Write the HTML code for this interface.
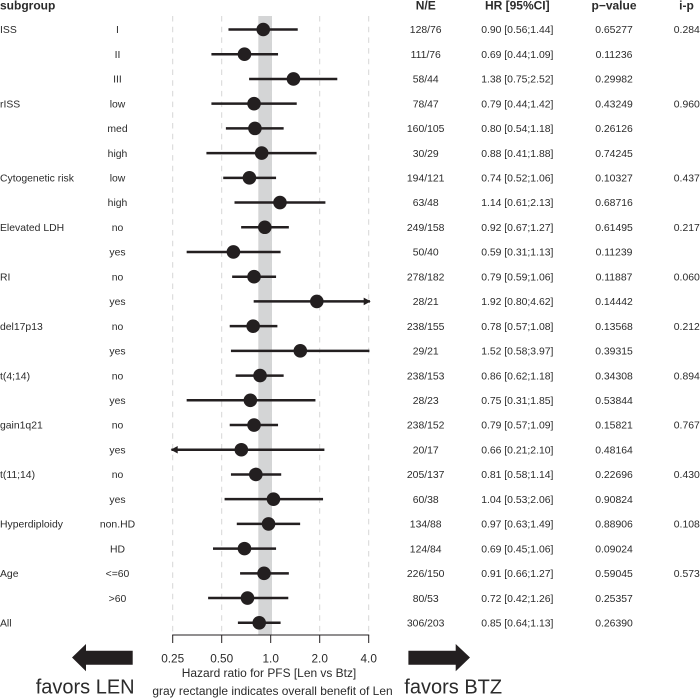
<!DOCTYPE html>
<html>
<head>
<meta charset="utf-8">
<style>
html,body{margin:0;padding:0;background:#fff;width:700px;height:698px;overflow:hidden}
svg{display:block;font-family:"Liberation Sans",Arial,sans-serif}
text{fill:#2b2b2b}
</style>
</head>
<body>
<svg id="chart" width="700" height="698" viewBox="0 0 700 698" xmlns="http://www.w3.org/2000/svg"></svg>
<script>
const groups = ["ISS","","","rISS","","","Cytogenetic risk","","Elevated LDH","","RI","","del17p13","","t(4;14)","","gain1q21","","t(11;14)","","Hyperdiploidy","","Age","","All"];
const levels = ["I","II","III","low","med","high","low","high","no","yes","no","yes","no","yes","no","yes","no","yes","no","yes","non.HD","HD","<=60",">60",""];
const counts = ["128/76","111/76","58/44","78/47","160/105","30/29","194/121","63/48","249/158","50/40","278/182","28/21","238/155","29/21","238/153","28/23","238/152","20/17","205/137","60/38","134/88","124/84","226/150","80/53","306/203"];
const hr = [0.90,0.69,1.38,0.79,0.80,0.88,0.74,1.14,0.92,0.59,0.79,1.92,0.78,1.52,0.86,0.75,0.79,0.66,0.81,1.04,0.97,0.69,0.91,0.72,0.85];
const lower = [0.56,0.44,0.75,0.44,0.54,0.41,0.52,0.61,0.67,0.31,0.59,0.80,0.57,0.58,0.62,0.31,0.57,0.21,0.58,0.53,0.63,0.45,0.66,0.42,0.64];
const upper = [1.44,1.09,2.52,1.42,1.18,1.88,1.06,2.13,1.27,1.13,1.06,4.62,1.08,3.97,1.18,1.85,1.09,2.10,1.14,2.06,1.49,1.06,1.27,1.26,1.13];
const pValues = ["0.65277","0.11236","0.29982","0.43249","0.26126","0.74245","0.10327","0.68716","0.61495","0.11239","0.11887","0.14442","0.13568","0.39315","0.34308","0.53844","0.15821","0.48164","0.22696","0.90824","0.88906","0.09024","0.59045","0.25357","0.26390"];
const interactionP = ["0.284","","","0.960","","","0.437","","0.217","","0.060","","0.212","","0.894","","0.767","","0.430","","0.108","","0.573","",""];
const tickValues = [0.25,0.5,1,2,4];
const tickLabels = ["0.25","0.50","1.0","2.0","4.0"];
const overallHR = 0.85;

const NS = "http://www.w3.org/2000/svg";
const svg = document.getElementById("chart");
const axisMin = tickValues[0];
const axisMax = tickValues[tickValues.length - 1];
function xScale(v){ return 270.7 + 49 * Math.log2(v); }
function yScale(i){ return 29.5 + 24.72 * i; }
function make(tag, attrs, parent){
  const el = document.createElementNS(NS, tag);
  for (const k in attrs) el.setAttribute(k, attrs[k]);
  (parent || svg).appendChild(el);
  return el;
}
function label(str, x, y, size, anchor, weight){
  const el = make("text", {x:x, y:y, "font-size":size, "text-anchor":anchor || "middle", "font-weight":weight || "normal"});
  el.textContent = str;
  return el;
}
const bodySize = 10.4;

// overall rectangle
const rect = make("rect", {x:xScale(overallHR)-0.9, y:16, width:xScale(1)-xScale(overallHR)+2.2, height:619, fill:"#d4d5d6"});



// gridlines
tickValues.forEach(function(v){
  const g = make("line", {x1:xScale(v), x2:xScale(v), y1:16, y2:635, stroke:"#d6d6d6", "stroke-width":1, "stroke-dasharray":"5.5 5.2"});
  
  
});

// headers
const headers = [["subgroup",0,"start"],["N/E",425.7,"middle"],["HR [95%CI]",517.3,"middle"],["p\u2212value",614,"middle"],["i-p",686.5,"middle"]];
headers.forEach(function(h){
  const t = label(h[0], h[1], 9.5, 12, h[2], "bold");
  
  
});

// rows
hr.forEach(function(v, i){
  const y = yScale(i);
  const ty = y + 3.7;
  if (groups[i]) {
    const t = label(groups[i], 0, ty, bodySize, "start");
    
    
  }
  if (levels[i]) {
    const t = label(levels[i], 117.5, ty, bodySize);
    
    
  }
  const c = label(counts[i], 425.7, ty, bodySize);
  
  
  const h = label(v.toFixed(2) + " [" + lower[i].toFixed(2) + ";" + upper[i].toFixed(2) + "]", 517.3, ty, bodySize);
  
  
  const p = label(pValues[i], 614, ty, bodySize);
  
  
  if (interactionP[i]) {
    const ip = label(interactionP[i], 686.8, ty, bodySize);
    
    
  }
  const x1 = xScale(Math.max(lower[i], axisMin));
  const x2 = xScale(Math.min(upper[i], axisMax));
  const ci = make("line", {x1:x1, x2:x2, y1:y, y2:y, stroke:"#231f20", "stroke-width":2.5, "stroke-linecap":"square"});
  
  
  if (upper[i] > axisMax) {
    const a = make("polygon", {points:(x2+2)+","+y+" "+(x2-5)+","+(y-3.8)+" "+(x2-5)+","+(y+3.8), fill:"#231f20"});
    
    
  }
  if (lower[i] < axisMin) {
    const a = make("polygon", {points:(x1-2)+","+y+" "+(x1+5)+","+(y-3.8)+" "+(x1+5)+","+(y+3.8), fill:"#231f20"});
    
    
  }
  const dot = make("circle", {cx:xScale(v), cy:y, r:6.8, fill:"#231f20"});
  
  
});

// axis
const axis = make("line", {x1:xScale(axisMin)-0.5, x2:xScale(axisMax)+0.5, y1:635, y2:635, stroke:"#231f20", "stroke-width":1});


tickValues.forEach(function(v, i){
  const tk = make("line", {x1:xScale(v), x2:xScale(v), y1:635, y2:643, stroke:"#231f20", "stroke-width":1});
  
  
  const t = label(tickLabels[i], xScale(v), 662.5, 11.8);
  
  
});

const xTitle = label("Hazard ratio for PFS [Len vs Btz]", 269, 677, 11.95);


const note = label("gray rectangle indicates overall benefit of Len", 272.5, 695, 11.95);



const leftArrow = make("polygon", {points:"72,657.5 86,644 86,650.7 132.7,650.7 132.7,664.8 86,664.8 86,671.3", fill:"#231f20"});


const rightArrow = make("polygon", {points:"470,657.5 455.7,644 455.7,650.7 408.4,650.7 408.4,664.8 455.7,664.8 455.7,671.3", fill:"#231f20"});



const favLen = label("favors LEN", 35.7, 693.7, 20, "start");


const favBtz = label("favors BTZ", 404.3, 693.5, 20, "start");


</script>
</body>
</html>
